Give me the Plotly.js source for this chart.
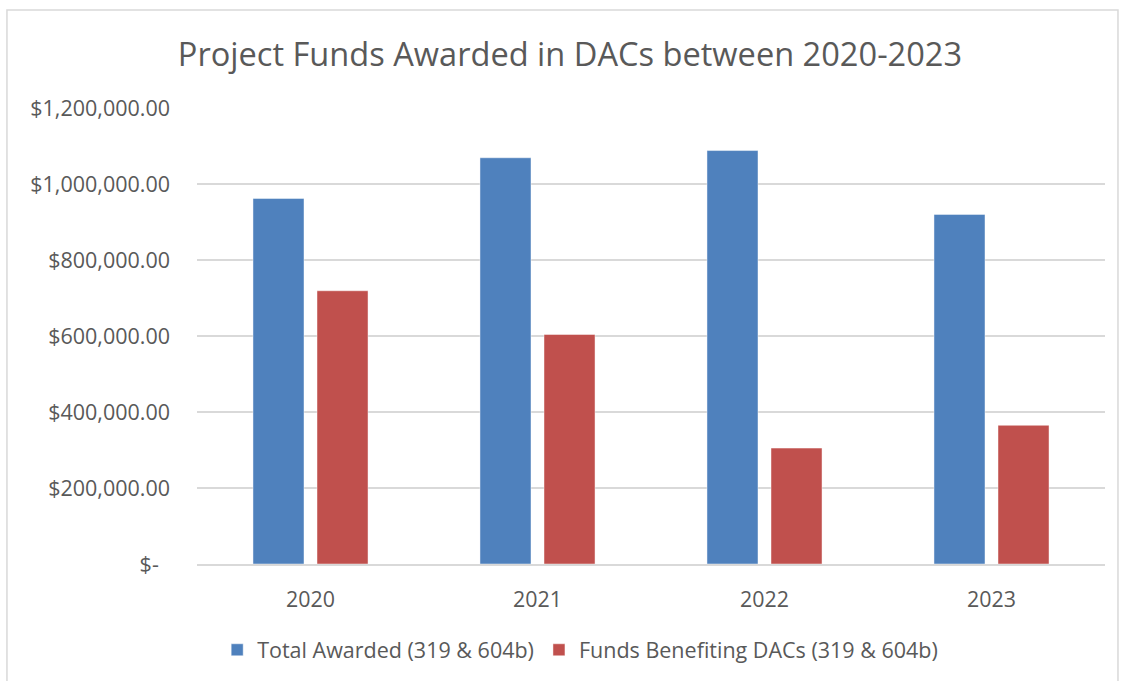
<!DOCTYPE html>
<html>
<head>
<meta charset="utf-8">
<script src="https://cdn.plot.ly/plotly-3.0.1.min.js"></script>
<style>
html,body{margin:0;padding:0;background:#fff;}
#chart{width:1122px;height:681px;}
</style>
</head>
<body>
<div id="chart"></div>
<script>
const years = ["2020", "2021", "2022", "2023"];
const totalAwarded = [962000, 1069000, 1088000, 920000];
const fundsDACs = [719000, 604000, 305000, 365000];
const seriesNames = ["Total Awarded (319 & 604b)", "Funds Benefiting DACs (319 & 604b)"];
const yTickVals = [0, 200000, 400000, 600000, 800000, 1000000, 1200000];
const yTickText = ["$-\u00a0\u00a0", "$200,000.00", "$400,000.00", "$600,000.00", "$800,000.00", "$1,000,000.00", "$1,200,000.00"];

const font = "Open Sans, sans-serif";
const txt = "#595959";

const traces = [
  {type: "bar", x: years, y: totalAwarded, name: seriesNames[0],
   marker: {color: "#4F81BD", line: {color: "rgba(255,255,255,0.45)", width: 1}}, hoverinfo: "none"},
  {type: "bar", x: years, y: fundsDACs, name: seriesNames[1],
   marker: {color: "#C0504D", line: {color: "rgba(255,255,255,0.45)", width: 1}}, hoverinfo: "none"}
];

const layout = {
  width: 1122, height: 681,
  margin: {l: 197, r: 17, t: 108.5, b: 116, pad: 0},
  paper_bgcolor: "#fff", plot_bgcolor: "#fff",
  font: {family: font, color: txt},
  title: {text: "Project Funds Awarded in DACs between 2020-2023", font: {family: font, size: 32.6, color: txt},
          x: 0.508, xanchor: "center", y: 0.92, yanchor: "middle"},
  barmode: "group", bargap: 0.436, bargroupgap: 0.203,
  xaxis: {type: "category", showgrid: false, showline: true, linecolor: "#d9d9d9", linewidth: 1.5,
          ticks: "", tickfont: {family: font, size: 21.4, color: txt}, ticklabelstandoff: 16, zeroline: false},
  yaxis: {range: [0, 1200000], tickvals: yTickVals, ticktext: yTickText, showgrid: true,
          gridcolor: "#d9d9d9", gridwidth: 1.5, zeroline: false, showline: false, ticks: "",
          tickfont: {family: font, size: 21.5, color: txt}, ticklabelstandoff: 26},
  legend: {orientation: "h", x: 0.422, xanchor: "center", y: -0.186, yanchor: "middle",
           font: {family: font, size: 21.5, color: txt}, bgcolor: "rgba(0,0,0,0)"},
  showlegend: true,
  shapes: [{type: "rect", xref: "paper", yref: "paper", x0: -0.2093, x1: 1.0143, y0: -0.3, y1: 1.2147,
            line: {color: "#d9d9d9", width: 1.5}, fillcolor: "rgba(0,0,0,0)", layer: "below"}]
};

Plotly.newPlot("chart", traces, layout, {displayModeBar: false, staticPlot: true});
</script>
</body>
</html>
